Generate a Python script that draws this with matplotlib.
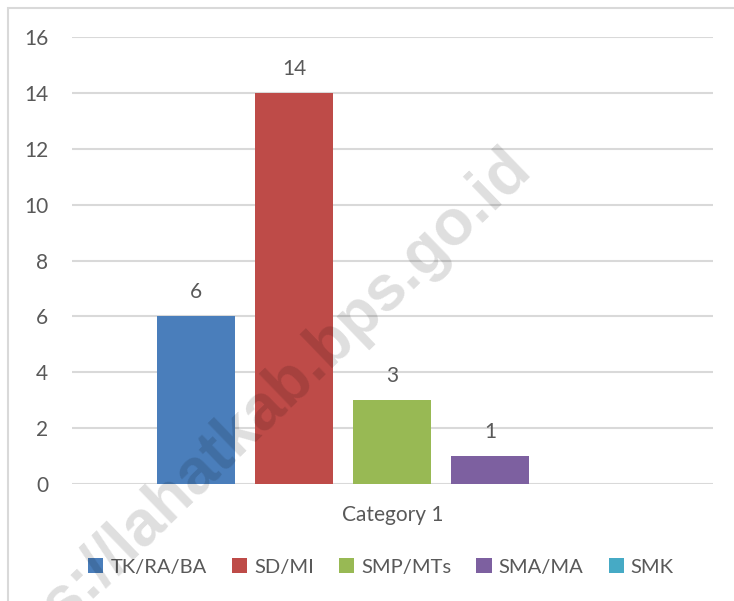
import numpy as np
import matplotlib.pyplot as plt
from matplotlib.patches import Rectangle

series = ['TK/RA/BA', 'SD/MI', 'SMP/MTs', 'SMA/MA', 'SMK']
values = [6, 14, 3, 1, np.nan]
colors = ['#4a7ebb', '#be4b48', '#98b954', '#7d60a0', '#46aac5']
category = 'Category 1'
yticks = [0, 2, 4, 6, 8, 10, 12, 14, 16]

plt.rcParams['font.family'] = ['Lato', 'DejaVu Sans']
txt = '#595959'

fig = plt.figure(figsize=(7.34, 6.01), dpi=100)
ax = fig.add_axes([0.098, 0.1947, 0.873, 0.7437])

# outer chart border
fig.patches.append(Rectangle((8 / 734, -0.1), 1.2, 1 - 8 / 601 + 0.1,
                             transform=fig.transFigure, fill=False,
                             edgecolor='#d9d9d9', lw=1.5))

w = 0.1217
step = 0.1529
for i, (name, v, c) in enumerate(zip(series, values, colors)):
    x = (i - 2) * step
    h = 0 if np.isnan(v) else v
    bars = ax.bar(x, h, width=w, color=c, label=name, zorder=3)
    if not np.isnan(v):
        ax.bar_label(bars, labels=[f'{v:g}'], padding=10, fontsize=15, color=txt)

ax.set_xlim(-0.5, 0.5)
ax.set_ylim(0, 16)
ax.set_yticks(yticks)
ax.set_xticks([0])
ax.set_xticklabels([category])
ax.tick_params(axis='y', length=0, pad=17, labelsize=15, labelcolor=txt)
ax.tick_params(axis='x', length=0, pad=15, labelsize=15, labelcolor=txt)
ax.grid(axis='y', color='#d9d9d9', lw=1.5, zorder=0)
for s in ax.spines.values():
    s.set_visible(False)

fig.legend(loc='center', bbox_to_anchor=(0.519, 1 - 567 / 601), ncol=5,
           frameon=False, fontsize=14.5, labelcolor=txt, handlelength=0.75,
           handleheight=0.75, handletextpad=0.35, columnspacing=1.25)

# watermark
fig.text(0.3475, 0.2696, 'https://lahatkab.bps.go.id', fontsize=46, fontweight='bold',
         family=['Liberation Sans', 'DejaVu Sans'], color='black', alpha=0.13,
         rotation=44, ha='center', va='baseline', rotation_mode='anchor', zorder=10)

fig.savefig('out.png', dpi=100)
